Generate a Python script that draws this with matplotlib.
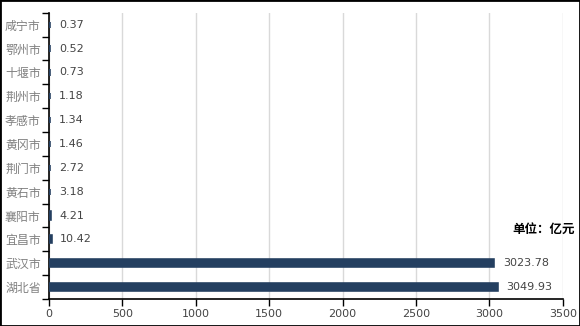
import matplotlib.pyplot as plt
import matplotlib.patches as mpatches

plt.rcParams['font.family'] = ['Noto Sans CJK SC', 'DejaVu Sans']

cities = ['湖北省', '武汉市', '宜昌市', '襄阳市', '黄石市', '荆门市',
          '黄冈市', '孝感市', '荆州市', '十堰市', '鄂州市', '咸宁市']
values = [3049.93, 3023.78, 10.42, 4.21, 3.18, 2.72,
          1.46, 1.34, 1.18, 0.73, 0.52, 0.37]
xticks = [0, 500, 1000, 1500, 2000, 2500, 3000, 3500]

bar_color = '#243f60'

fig = plt.figure(figsize=(5.8, 3.26), dpi=100)
ax = fig.add_axes([0.0845, 0.0828, 0.886, 0.878])

pos = list(range(len(cities)))
ax.barh(pos, values, height=0.26, color=bar_color, edgecolor=bar_color,
        linewidth=2.6, zorder=3)

for p, v in zip(pos, values):
    ax.annotate('{:.2f}'.format(v), (v, p), xytext=(7, 0),
                textcoords='offset points', va='center', ha='left',
                fontsize=8, color='#444444', family='DejaVu Sans')

ax.set_xlim(0, 3500)
ax.set_ylim(-0.5, len(cities) - 0.5)
ax.set_xticks(xticks)
ax.set_xticklabels([str(t) for t in xticks], fontsize=8, color='#444444',
                   family='DejaVu Sans')
ax.set_yticks(pos)
ax.set_yticklabels(cities, fontsize=8.6, color='#808080')
ax.set_yticks([p - 0.5 for p in pos] + [len(cities) - 0.5], minor=True)
ax.tick_params(axis='y', which='major', length=0, pad=6)
ax.tick_params(axis='y', which='minor', length=5, width=1, color='black')
ax.tick_params(axis='x', length=5, width=1, color='black', pad=2)

ax.grid(axis='x', color='#d9d9d9', linewidth=1, zorder=0)
for s in ['top', 'right']:
    ax.spines[s].set_visible(False)
for s in ['left', 'bottom']:
    ax.spines[s].set_color('black')
    ax.spines[s].set_linewidth(1.2)
    ax.spines[s].set_zorder(2)

fig.text(0.992, 0.297, '单位：亿元', ha='right', va='center', fontsize=9,
         fontweight='bold', color='black')

fig.patches.append(mpatches.Rectangle((0, 0), 1, 1, transform=fig.transFigure,
                                      fill=False, edgecolor='black',
                                      linewidth=2))

fig.savefig('out.png', dpi=100)
